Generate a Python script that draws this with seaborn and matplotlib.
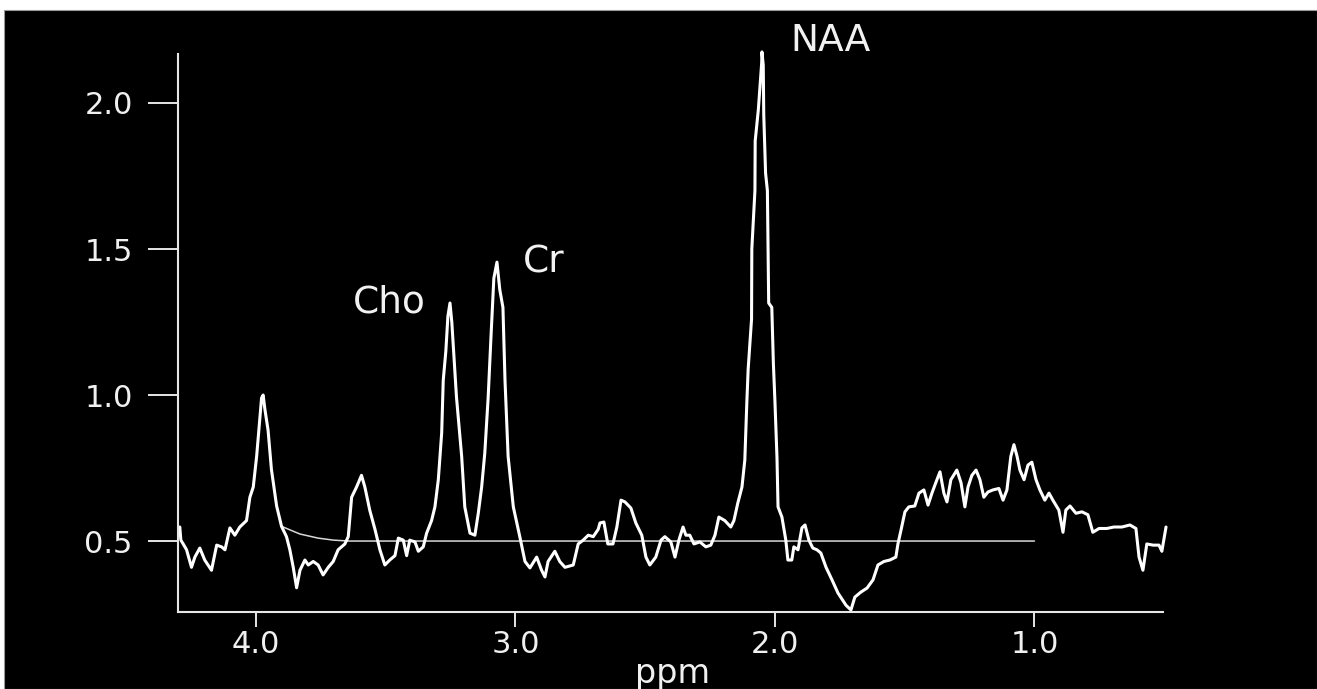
import matplotlib
matplotlib.use("Agg")
import matplotlib.pyplot as plt
import matplotlib.patches as mpatches
import seaborn as sns
import pandas as pd

# ---------------- data ----------------
ppm = [4.293, 4.289, 4.280, 4.267, 4.248, 4.235, 4.216, 4.197, 4.171, 4.151,
       4.132, 4.119, 4.100, 4.081, 4.062, 4.036, 4.023, 4.010, 3.997, 3.985,
       3.978, 3.972, 3.965, 3.953, 3.940, 3.920, 3.901, 3.882, 3.869, 3.856,
       3.843, 3.830, 3.811, 3.798, 3.779, 3.760, 3.741, 3.721, 3.702, 3.683,
       3.657, 3.644, 3.631, 3.612, 3.593, 3.580, 3.561, 3.541, 3.522, 3.503,
       3.484, 3.464, 3.451, 3.432, 3.419, 3.407, 3.387, 3.374, 3.355, 3.342,
       3.323, 3.310, 3.297, 3.284, 3.278, 3.268, 3.260, 3.252, 3.245, 3.227,
       3.207, 3.195, 3.175, 3.156, 3.143, 3.130, 3.118, 3.105, 3.094, 3.083,
       3.071, 3.060, 3.048, 3.040, 3.028, 3.008, 2.983, 2.963, 2.944, 2.918,
       2.899, 2.886, 2.874, 2.848, 2.829, 2.809, 2.777, 2.758, 2.739, 2.719,
       2.700, 2.681, 2.674, 2.659, 2.644, 2.624, 2.609, 2.593, 2.578, 2.555,
       2.536, 2.513, 2.497, 2.482, 2.459, 2.439, 2.424, 2.401, 2.385, 2.370,
       2.354, 2.343, 2.328, 2.312, 2.289, 2.266, 2.247, 2.231, 2.216, 2.193,
       2.170, 2.158, 2.143, 2.127, 2.116, 2.108, 2.103, 2.090, 2.089, 2.077,
       2.076, 2.064, 2.051, 2.050, 2.045, 2.043, 2.036, 2.029, 2.024, 2.012,
       2.006, 2.000, 1.992, 1.988,
       1.973, 1.958, 1.950, 1.935, 1.927, 1.911, 1.896, 1.884, 1.869, 1.854,
       1.838, 1.823, 1.803, 1.780, 1.757, 1.726, 1.707, 1.692, 1.669, 1.645,
       1.622, 1.603, 1.580, 1.557, 1.534, 1.526, 1.514, 1.499, 1.484, 1.461,
       1.445, 1.426, 1.410, 1.395, 1.380, 1.364, 1.349, 1.337, 1.322, 1.299,
       1.283, 1.268, 1.256, 1.241, 1.225, 1.210, 1.195, 1.179, 1.160, 1.137,
       1.121, 1.106, 1.091, 1.079, 1.067, 1.056, 1.040, 1.025, 1.010, 0.994,
       0.979, 0.960, 0.944, 0.929, 0.906, 0.890, 0.879, 0.863, 0.840, 0.817,
       0.794, 0.775, 0.751, 0.721, 0.694, 0.663, 0.632, 0.609, 0.597, 0.582,
       0.567, 0.543, 0.520, 0.509, 0.493]

signal = [0.548, 0.503, 0.490, 0.470, 0.410, 0.445, 0.476, 0.435, 0.400, 0.486,
          0.480, 0.470, 0.545, 0.520, 0.548, 0.570, 0.650, 0.685, 0.790, 0.915,
          0.990, 1.000, 0.950, 0.880, 0.745, 0.620, 0.550, 0.515, 0.470, 0.410,
          0.340, 0.400, 0.435, 0.418, 0.430, 0.418, 0.384, 0.410, 0.430, 0.470,
          0.490, 0.515, 0.650, 0.685, 0.725, 0.685, 0.605, 0.540, 0.470, 0.418,
          0.435, 0.450, 0.510, 0.503, 0.450, 0.503, 0.497, 0.465, 0.480, 0.527,
          0.570, 0.617, 0.710, 0.870, 1.050, 1.150, 1.270, 1.315, 1.250, 0.993,
          0.790, 0.617, 0.527, 0.520, 0.595, 0.685, 0.800, 0.990, 1.200, 1.400,
          1.455, 1.360, 1.300, 1.050, 0.790, 0.617, 0.515, 0.430, 0.408, 0.445,
          0.400, 0.377, 0.430, 0.465, 0.430, 0.410, 0.418, 0.490, 0.503, 0.520,
          0.515, 0.540, 0.562, 0.565, 0.490, 0.490, 0.548, 0.640, 0.634, 0.613,
          0.562, 0.520, 0.445, 0.418, 0.445, 0.503, 0.515, 0.497, 0.445, 0.503,
          0.548, 0.520, 0.520, 0.490, 0.497, 0.480, 0.486, 0.520, 0.582, 0.570,
          0.548, 0.570, 0.630, 0.685, 0.777, 0.980, 1.090, 1.260, 1.500, 1.700,
          1.870, 1.976, 2.137, 2.175, 2.130, 1.960, 1.760, 1.700, 1.315, 1.300,
          1.110, 0.980, 0.785, 0.617,
          0.582, 0.503, 0.435, 0.435, 0.480, 0.470, 0.545, 0.555, 0.503, 0.476,
          0.470, 0.459, 0.410, 0.367, 0.322, 0.280, 0.264, 0.308, 0.325, 0.339,
          0.367, 0.418, 0.430, 0.435, 0.445, 0.490, 0.538, 0.600, 0.617, 0.620,
          0.664, 0.675, 0.623, 0.664, 0.700, 0.737, 0.664, 0.634, 0.710, 0.743,
          0.700, 0.617, 0.685, 0.725, 0.743, 0.710, 0.650, 0.668, 0.675, 0.680,
          0.640, 0.675, 0.790, 0.830, 0.790, 0.743, 0.710, 0.760, 0.770, 0.710,
          0.675, 0.640, 0.664, 0.640, 0.606, 0.530, 0.606, 0.620, 0.595, 0.600,
          0.590, 0.530, 0.543, 0.543, 0.548, 0.548, 0.555, 0.543, 0.445, 0.400,
          0.490, 0.486, 0.486, 0.465, 0.548]

baseline_ppm = [3.90, 3.86, 3.83, 3.76, 3.70, 3.64, 1.00]
baseline_val = [0.550, 0.535, 0.524, 0.510, 0.503, 0.500, 0.500]

x_ticks = [4.0, 3.0, 2.0, 1.0]
x_ticklabels = ["4.0", "3.0", "2.0", "1.0"]
y_ticks = [0.5, 1.0, 1.5, 2.0]
y_ticklabels = ["0.5", "1.0", "1.5", "2.0"]

peak_labels = ["Cho", "Cr", "NAA"]
peak_label_ppm = [3.484, 2.892, 1.784]
peak_label_val = [1.281, 1.418, 2.178]

x_label = "ppm"

# ---------------- style ----------------
sns.set_style("white")
plt.rcParams["font.family"] = ["DejaVu Sans"]

W, H = 1317, 689
fig = plt.figure(figsize=(W / 100, H / 100), dpi=100, facecolor="white")
fig.patches.append(mpatches.Rectangle((4 / W, 0), 1 - 4 / W, (H - 10) / H,
                                      transform=fig.transFigure, facecolor="black",
                                      edgecolor="#9a9a9a", linewidth=0.8, zorder=-10))

ax = fig.add_axes([178 / W, (H - 612) / H, (1166.8 - 178) / W, (612 - 47.5) / H])
ax.set_facecolor("black")

n = min(len(ppm), len(signal))
df = pd.DataFrame({"ppm": ppm[:n], "signal": signal[:n]})
dfb = pd.DataFrame({"ppm": baseline_ppm, "val": baseline_val})

sns.lineplot(data=dfb, x="ppm", y="val", ax=ax, color="#d8d8d8", linewidth=1.1,
             sort=False, estimator=None)
sns.lineplot(data=df, x="ppm", y="signal", ax=ax, color="white", linewidth=2.2,
             sort=False, estimator=None)
for ln in ax.lines:
    ln.set_clip_on(False)

ax.set_xlim(4.30, 0.49)
ax.set_ylim(0.257, 2.19)

for s in ["top", "right"]:
    ax.spines[s].set_visible(False)
for s in ["left", "bottom"]:
    ax.spines[s].set_color("#e6e6e6")
    ax.spines[s].set_linewidth(1.5)
ax.spines["bottom"].set_bounds(4.30, 0.505)
ax.spines["left"].set_bounds(0.257, 2.168)

ax.set_xticks(x_ticks)
ax.set_xticklabels(x_ticklabels)
ax.set_yticks(y_ticks)
ax.set_yticklabels(y_ticklabels)
ax.tick_params(axis="x", direction="out", length=10.8, width=1.4, color="#e6e6e6",
               labelcolor="#f0f0f0", labelsize=22, pad=2, bottom=True)
ax.tick_params(axis="y", direction="out", length=21.6, width=1.4, color="#e6e6e6",
               labelcolor="#f0f0f0", labelsize=22, pad=11, left=True)

ax.set_xlabel(x_label, fontsize=24, color="#f0f0f0")
ax.xaxis.label.set_va("baseline")
ax.xaxis.set_label_coords(0.5, -(683 - 612) / (612 - 47.5))
ax.set_ylabel("")

for lab, px, pv in zip(peak_labels, peak_label_ppm, peak_label_val):
    ax.text(px, pv, lab, fontsize=27, color="#f2f2f2", ha="center", va="baseline",
            clip_on=False)

fig.savefig("out.png", dpi=100, facecolor=fig.get_facecolor())
